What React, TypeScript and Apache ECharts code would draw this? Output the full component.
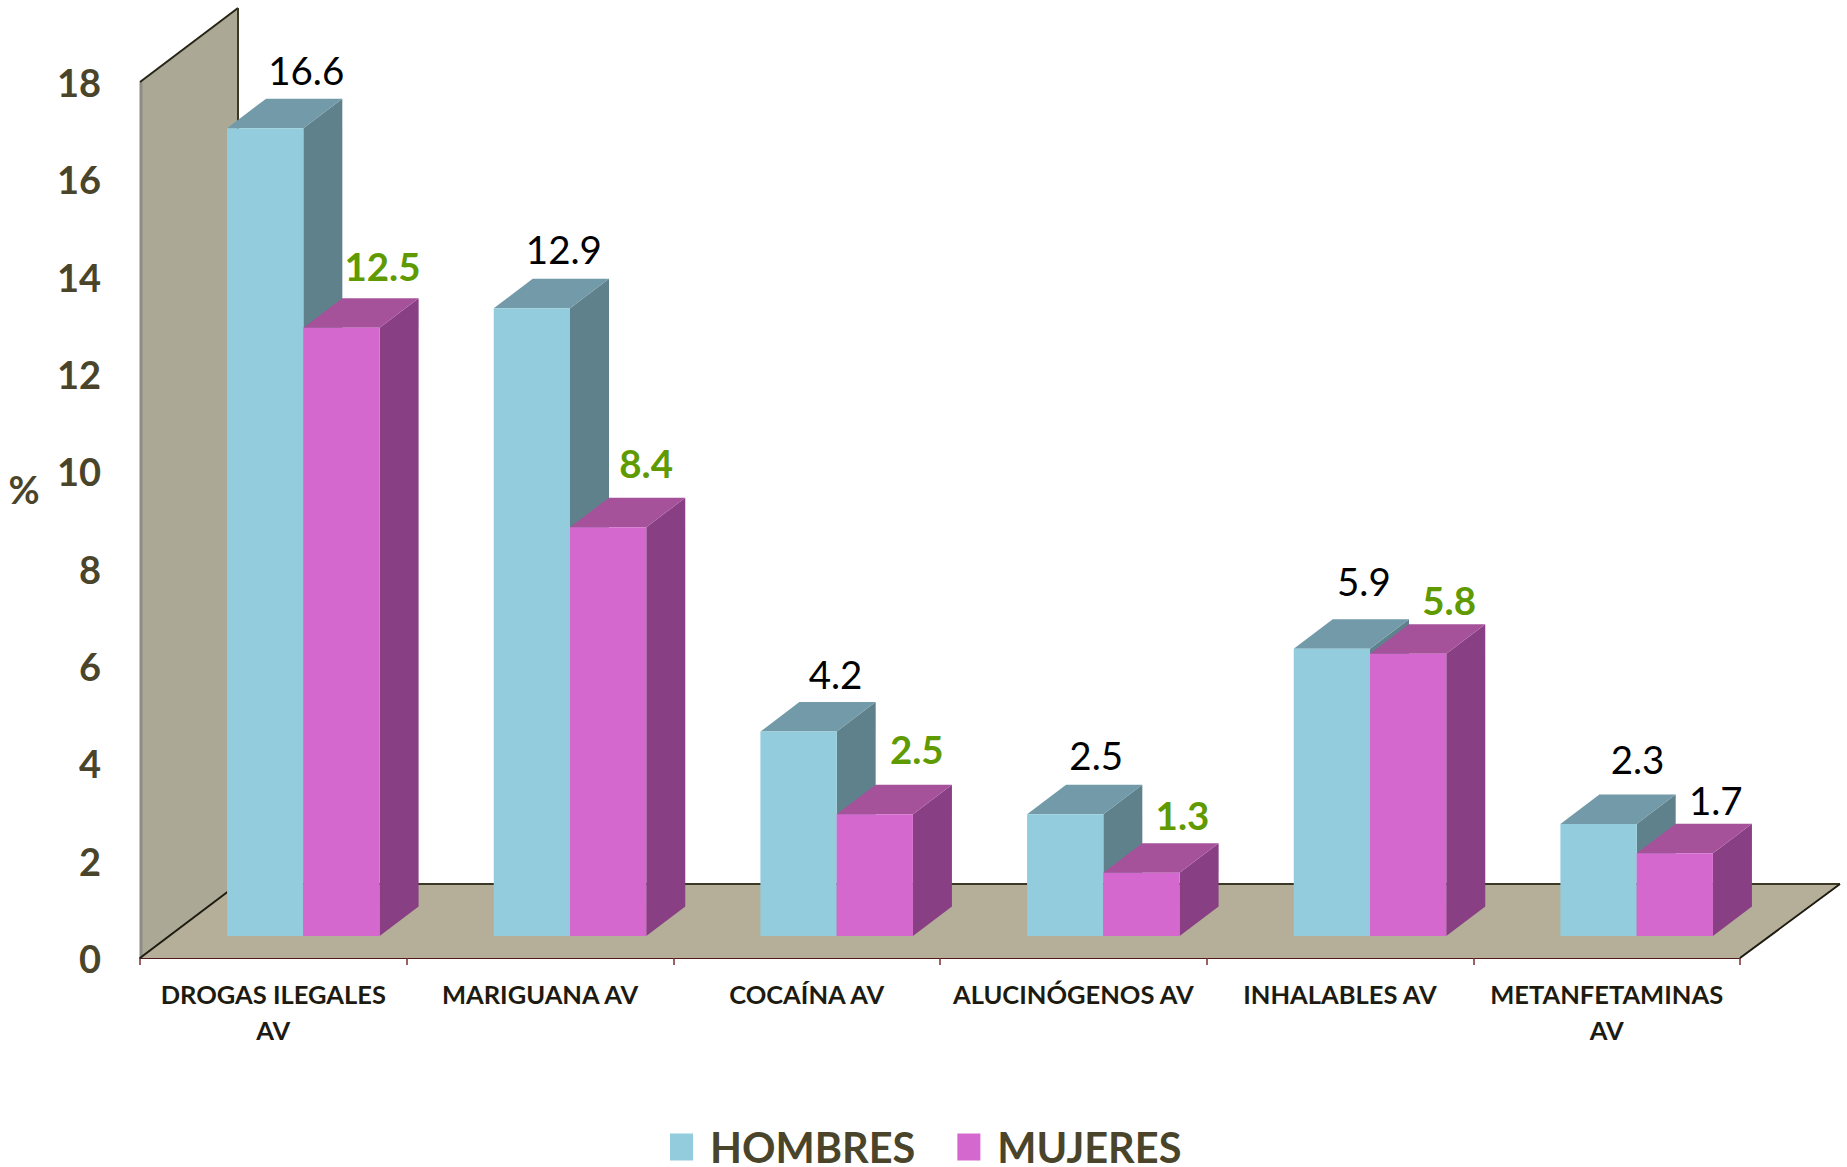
import React, { useEffect, useRef } from "react";
import * as echarts from "echarts";

const categories = [
  "DROGAS ILEGALES\nAV",
  "MARIGUANA AV",
  "COCAÍNA AV",
  "ALUCINÓGENOS AV",
  "INHALABLES AV",
  "METANFETAMINAS\nAV",
];
const hombres = [16.6, 12.9, 4.2, 2.5, 5.9, 2.3];
const mujeres = [12.5, 8.4, 2.5, 1.3, 5.8, 1.7];
const yTicks = { min: 0, max: 18, step: 2 };

// Layout only: hand-placed data label offsets from the top-front edge of each bar.
const hombresLabelOffset = [[41, -58], [32, -59], [37, -58], [31, -59], [32, -68], [39, -65]];
const mujeresLabelOffset = [[41, -62], [38, -64], [42, -65], [41, -58], [41, -54], [41, -53]];
const mujeresLabelBold = [true, true, true, true, true, false];

const TEXT = "#4A452A";
const FONT = "Lato";
const BAR_RATIO = 0.286;
const SHIFT = [30, -22];
const DEPTH = [39, -29.5];
const WALL = [98, -74];

const shade = {
  hombres: { front: "#93CDDD", top: "#729AA8", side: "#5E818C" },
  mujeres: { front: "#D568CE", top: "#A5529A", side: "#893F84" },
};

function makeBar(
  colors: { front: string; top: string; side: string },
  side: "left" | "right",
  offsets: number[][],
  labelFill: (i: number) => string,
  labelBold: (i: number) => boolean,
) {
  return (_: any, api: any) => {
    const i = api.value(0);
    const v = api.value(1);
    const [cx, yTop] = api.coord([i, v]);
    const [, yBase] = api.coord([i, 0]);
    const w = api.size([1, 0])[0] * BAR_RATIO;
    const x0 = cx + SHIFT[0] + (side === "left" ? -w : 0);
    const x1 = x0 + w;
    const yt = yTop + SHIFT[1];
    const yb = yBase + SHIFT[1];
    const [dx, dy] = DEPTH;
    const poly = (points: number[][], fill: string) => ({
      type: "polygon",
      shape: { points },
      style: { fill },
    });
    return {
      type: "group",
      children: [
        poly([[x1, yb], [x1, yt], [x1 + dx, yt + dy], [x1 + dx, yb + dy]], colors.side),
        poly([[x0, yt], [x0 + dx, yt + dy], [x1 + dx, yt + dy], [x1, yt]], colors.top),
        poly([[x0, yb], [x0, yt], [x1, yt], [x1, yb]], colors.front),
        {
          type: "text",
          style: {
            x: (x0 + x1) / 2 + offsets[i][0],
            y: yt + offsets[i][1],
            text: v.toFixed(1),
            fill: labelFill(i),
            fontFamily: FONT,
            fontSize: 38.5,
            fontWeight: labelBold(i) ? "bold" : "normal",
            align: "center",
            verticalAlign: "middle",
          },
        },
      ],
    };
  };
}

function renderStage(params: any) {
  const cs = params.coordSys;
  const x0 = cs.x;
  const yMax = cs.y;
  const x1 = cs.x + cs.width;
  const y0 = cs.y + cs.height;
  const [wx, wy] = WALL;
  const line = (a: number[], b: number[], stroke: string, lineWidth: number) => ({
    type: "line",
    shape: { x1: a[0], y1: a[1], x2: b[0], y2: b[1] },
    style: { stroke, lineWidth },
  });
  return {
    type: "group",
    children: [
      {
        type: "polygon",
        shape: { points: [[x0, y0], [x0, yMax], [x0 + wx, yMax + wy], [x0 + wx, y0 + wy]] },
        style: { fill: "#ABA996" },
      },
      {
        type: "polygon",
        shape: { points: [[x0, y0], [x0 + wx, y0 + wy], [x1 + wx + 2, y0 + wy], [x1, y0]] },
        style: { fill: "#B5AF99" },
      },
      line([x0 + 1, y0], [x0 + 1, yMax], "#8C8C84", 3),
      line([x0, yMax], [x0 + wx, yMax + wy], "#262414", 2),
      line([x0 + wx, yMax + wy], [x0 + wx, y0 + wy], "#3B3826", 2),
      line([x0, y0], [x0 + wx, y0 + wy], "#1D1B10", 2),
      line([x0 + wx, y0 + wy], [x1 + wx + 2, y0 + wy], "#3B3826", 2),
      line([x1 + wx + 2, y0 + wy], [x1, y0], "#1D1B10", 2),
    ],
  };
}

export default function App() {
  const ref = useRef<HTMLDivElement>(null);
  useEffect(() => {
    document.body.style.margin = "0";
    const chart = echarts.init(ref.current!, null, { renderer: "svg" });
    chart.setOption({
      animation: false,
      backgroundColor: "#ffffff",
      grid: { left: 140, right: 107, top: 82, bottom: 209, containLabel: false },
      legend: {
        data: [
          { name: "HOMBRES", itemStyle: { color: shade.hombres.front } },
          { name: "MUJERES", itemStyle: { color: shade.mujeres.front } },
        ],
        icon: "rect",
        left: 665,
        top: 1121,
        padding: 5,
        itemWidth: 23,
        itemHeight: 27,
        itemGap: 42,
        selectedMode: false,
        textStyle: {
          color: TEXT,
          fontFamily: FONT,
          fontWeight: "bold",
          fontSize: 41.5,
          lineHeight: 40,
          padding: [0, 0, 0, 12],
        },
      },
      xAxis: {
        type: "category",
        data: categories,
        boundaryGap: true,
        axisLine: { lineStyle: { color: "#4F1A1A", width: 2 } },
        axisTick: { show: true, length: 7, interval: 0, lineStyle: { color: "#7A2E2E", width: 1.5 } },
        axisLabel: {
          interval: 0,
          color: "#1D1B10",
          fontFamily: FONT,
          fontWeight: "bold",
          fontSize: 25.5,
          lineHeight: 36,
          margin: 18,
        },
      },
      yAxis: {
        type: "value",
        min: yTicks.min,
        max: yTicks.max,
        interval: yTicks.step,
        axisLine: { show: false },
        axisTick: { show: false },
        splitLine: { show: false },
        axisLabel: {
          color: TEXT,
          fontFamily: FONT,
          fontWeight: "bold",
          fontSize: 38,
          margin: 39,
          padding: [3, 0, 0, 0],
        },
      },
      graphic: [
        {
          type: "text",
          x: 24,
          y: 489,
          style: {
            text: "%",
            fill: TEXT,
            fontFamily: FONT,
            fontWeight: "bold",
            fontSize: 38,
            align: "center",
            verticalAlign: "middle",
          },
        },
      ],
      series: [
        {
          name: "stage",
          type: "custom",
          silent: true,
          z: 1,
          data: [[0, 0]],
          encode: { x: 0, y: 1 },
          renderItem: renderStage,
        },
        {
          name: "HOMBRES",
          type: "custom",
          silent: true,
          z: 2,
          itemStyle: { color: shade.hombres.front },
          data: hombres.map((v, i) => [i, v]),
          encode: { x: 0, y: 1 },
          renderItem: makeBar(shade.hombres, "left", hombresLabelOffset, () => "#000000", () => false),
        },
        {
          name: "MUJERES",
          type: "custom",
          silent: true,
          z: 3,
          itemStyle: { color: shade.mujeres.front },
          data: mujeres.map((v, i) => [i, v]),
          encode: { x: 0, y: 1 },
          renderItem: makeBar(
            shade.mujeres,
            "right",
            mujeresLabelOffset,
            (i) => (mujeresLabelBold[i] ? "#5F9A00" : "#000000"),
            (i) => mujeresLabelBold[i],
          ),
        },
      ],
    });
    return () => chart.dispose();
  }, []);
  return <div ref={ref} style={{ width: 1847, height: 1167 }} />;
}
